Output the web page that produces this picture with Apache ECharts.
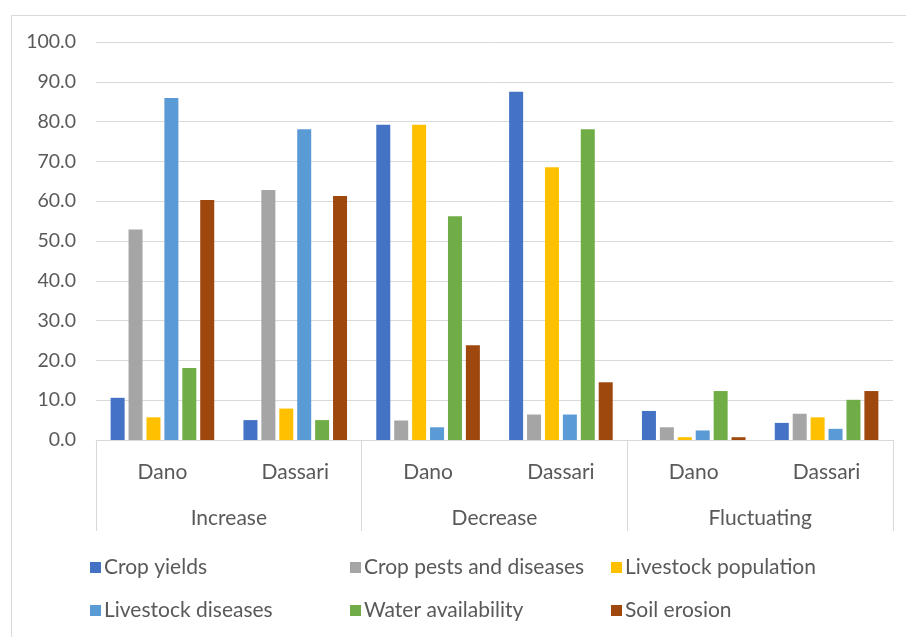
<!DOCTYPE html>
<html>
<head>
<meta charset="utf-8">
<script src="https://cdn.jsdelivr.net/npm/echarts@6/dist/echarts.min.js"></script>
<style>
  html, body { margin: 0; padding: 0; background: #fff; }
  #chart { width: 906px; height: 637px; }
</style>
</head>
<body>
<div id="chart"></div>
<script>
// categories
const places = ["Dano", "Dassari", "Dano", "Dassari", "Dano", "Dassari"];
const groups = ["Increase", "Decrease", "Fluctuating"];

// series values
const cropYields = [10.6, 5.0, 79.2, 87.5, 7.3, 4.3];
const cropPests = [52.9, 62.8, 4.9, 6.4, 3.2, 6.6];
const livestockPop = [5.7, 7.9, 79.2, 68.5, 0.7, 5.7];
const livestockDis = [85.9, 78.1, 3.2, 6.4, 2.4, 2.8];
const waterAvail = [18.1, 5.0, 56.2, 78.1, 12.3, 10.1];
const soilErosion = [60.3, 61.3, 23.8, 14.5, 0.7, 12.3];

const seriesNames = ["Crop yields", "Crop pests and diseases", "Livestock population",
  "Livestock diseases", "Water availability", "Soil erosion"];
const seriesData = [cropYields, cropPests, livestockPop, livestockDis, waterAvail, soilErosion];
const colors = ["#4472C4", "#A5A5A5", "#FFC000", "#5B9BD5", "#70AD47", "#9E480E"];

const font = "Lato";
const textColor = "#595959";
const lineColor = "#D9D9D9";

// legend slots: 3 columns x 2 rows, in series order
const legendLeft = [85, 345, 606];
const legendTop = [552, 595];

let chart = echarts.init(document.getElementById("chart"), null, { renderer: "canvas" });

// one legend per item so each sits in its own slot
const legends = seriesNames.map((name, i) => ({
  left: legendLeft[i % 3],
  top: legendTop[Math.floor(i / 3)],
  itemWidth: 11,
  itemHeight: 11,
  icon: "rect",
  data: [name],
  textStyle: { fontFamily: font, fontSize: 21, color: textColor, padding: [0, 0, 0, -2] }
}));

chart.setOption({
  backgroundColor: "#fff",
  animation: false,
  color: colors,
  grid: { left: 96, right: 13, top: 42, bottom: 197 },
  legend: legends,
  graphic: [{
    type: "rect",
    shape: { x: 11.5, y: 15.5, width: 1000, height: 1000 },
    style: { fill: "none", stroke: lineColor, lineWidth: 1 },
    silent: true
  }],
  xAxis: [{
    type: "category",
    data: places,
    axisLine: { show: true, lineStyle: { color: lineColor, width: 1 } },
    axisTick: { show: false },
    axisLabel: { fontFamily: font, fontSize: 21, color: textColor, margin: 21, lineHeight: 22 }
  }, {
    type: "category",
    data: groups,
    position: "bottom",
    axisLine: { show: false },
    axisTick: { show: true, length: 91, lineStyle: { color: lineColor, width: 1 } },
    axisLabel: { fontFamily: font, fontSize: 21, color: textColor, margin: 67, lineHeight: 22 },
    splitLine: { show: false }
  }],
  yAxis: {
    type: "value",
    min: 0,
    max: 100,
    interval: 10,
    axisLine: { show: false },
    axisTick: { show: false },
    axisLabel: {
      fontFamily: font, fontSize: 19.5, color: textColor, margin: 20,
      formatter: v => v.toFixed(1)
    },
    splitLine: { lineStyle: { color: lineColor, width: 1 } }
  },
  series: seriesNames.map((name, i) => ({
    name: name,
    type: "bar",
    xAxisIndex: 0,
    data: seriesData[i],
    barWidth: 14,
    barGap: "28%",
    itemStyle: { color: colors[i] }
  }))
});
</script>
</body>
</html>
